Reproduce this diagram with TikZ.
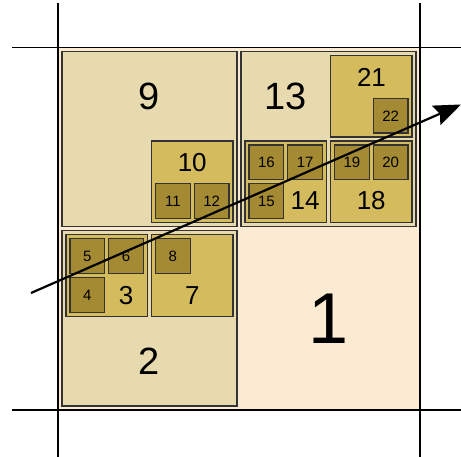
\documentclass[tikz,border=0pt]{standalone}
\usepackage{fontspec}
\setmainfont{Liberation Sans}
\usetikzlibrary{arrows.meta}

\definecolor{Peach}{HTML}{FCEBD3}
\definecolor{SandLight}{HTML}{E6DAAE}
\definecolor{SandMid}{HTML}{D4BC5E}
\definecolor{SandDark}{HTML}{A38A33}
\definecolor{Edge}{HTML}{333333}

\begin{document}
\begin{tikzpicture}[x=1pt,y=-1pt,
    grid/.style={line width=1.2pt,black},
    cellA/.style={draw=Edge,line width=1.2pt,fill=SandLight},
    cellB/.style={draw=Edge,line width=1.2pt,fill=SandMid},
    cellC/.style={draw=Edge,line width=1.2pt,fill=SandDark},
    labTop/.style={font=\fontsize{72}{74}\selectfont},
    labA/.style={font=\fontsize{38}{40}\selectfont},
    labB/.style={font=\fontsize{26}{28}\selectfont},
    labC/.style={font=\fontsize{15}{17}\selectfont}]
  \useasboundingbox (0,0) rectangle (461,457);

  % root cell and its boundary lines
  \fill[Peach] (58,47.5) rectangle (420,410);
  \draw[grid] (58,3) -- (58,457);
  \draw[grid] (420,3) -- (420,457);
  \draw[grid] (12,47.5) -- (461,47.5);
  \draw[grid] (12,410) -- (461,410);
  \node (n1) [labTop] at (329,319) {1};

  % first level
  \draw[cellA] (62,51.5) rectangle (237,226.75);
  \draw[cellA] (62,230.75) rectangle (237,406);
  \draw[cellA] (241,51.5) rectangle (416,226.75);
  \node (n9) [labA] at (149.5,96.5) {9};
  \node (n2) [labA] at (149.5,361.5) {2};
  \node (n13) [labA] at (285.75,96.5) {13};

  % second level
  \draw[cellB] (151.5,141.1) rectangle (233,222.75);
  \draw[cellB] (66,234.75) rectangle (147.5,316.4);
  \draw[cellB] (151.5,234.75) rectangle (233,316.4);
  \draw[cellB] (330.5,55.5) rectangle (412,137.1);
  \draw[cellB] (245,141.1) rectangle (326.5,222.75);
  \draw[cellB] (330.5,141.1) rectangle (412,222.75);
  \node (n10) [labB] at (192.25,163) {10};
  \node (n3) [labB] at (126.1,296) {3};
  \node (n7) [labB] at (192.25,295.5) {7};
  \node (n21) [labB] at (371.5,77.5) {21};
  \node (n14) [labB] at (305.1,201) {14};
  \node (n18) [labB] at (371.25,201) {18};

  % third level
  \foreach \lab/\x/\y in {11/155.5/183.9, 12/194.25/183.9, 5/70/238.75,
      6/108.75/238.75, 4/70/277.6, 8/155.5/238.75, 22/373.25/98.3,
      16/249/145.1, 17/287.75/145.1, 15/249/183.9, 19/334.5/145.1,
      20/373.25/145.1}{
    \draw[cellC] (\x,\y) rectangle ++(34.75,34.8);
    \node (n\lab) [labC] at (\x+17.4,\y+17.6) {\lab};
  }

  % query ray
  \coordinate (ray start) at (31,293);
  \coordinate (ray end) at (461,104.5);
  \draw[line width=2.2pt,-{Stealth[length=27pt,width=21pt,inset=4pt]}]
    (ray start) -- (ray end);
\end{tikzpicture}
\end{document}
